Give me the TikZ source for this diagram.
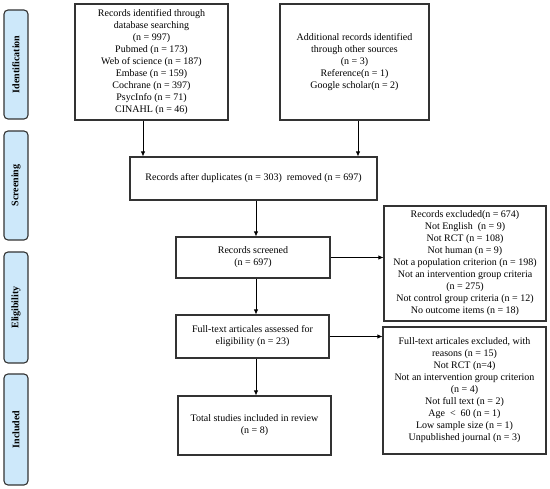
\documentclass[tikz,border=0pt]{standalone}
\usepackage{fontspec}
\setmainfont{Liberation Serif}
\usetikzlibrary{arrows.meta}
\definecolor{sidefill}{HTML}{CDE8FA}
\definecolor{edge}{HTML}{333333}
\begin{document}
\begin{tikzpicture}[x=1pt,y=-1pt,
  box/.style={draw=edge,line width=1.1pt,align=center,inner sep=2pt,
    font=\fontsize{10}{12}\selectfont},
  side/.style={draw=edge,fill=sidefill,line width=1.1pt,rounded corners=4pt,
    rotate=90,minimum height=24pt,inner sep=1pt,font=\fontsize{10}{12}\selectfont\bfseries},
  arr/.style={-{Latex[length=5pt,width=4.5pt]},line width=0.8pt,draw=black}]
\useasboundingbox (0,0) rectangle (550,489);
% side labels
\node[side,minimum width=109pt] (s1) at (16,64.5) {Identification};
\node[side,minimum width=109pt] (s2) at (16,185.5) {Screening};
\node[side,minimum width=111pt] (s3) at (16,307.5) {Eligibility};
\node[side,minimum width=111pt] (s4) at (16,429.5) {Included};
% boxes
\node[box,minimum width=153pt,minimum height=116pt] (b1) at (151.5,62)
  {Records identified through\\database searching\\(n = 997)\\Pubmed (n = 173)\\Web of science (n = 187)\\Embase (n = 159)\\Cochrane (n = 397)\\PsycInfo (n = 71)\\CINAHL (n = 46)};
\node[box,minimum width=149pt,minimum height=116pt] (b2) at (354.5,62)
  {Additional records identified\\through other sources\\(n = 3)\\Reference(n = 1)\\Google scholar(n = 2)};
\node[box,minimum width=247pt,minimum height=43pt] (b3) at (253.5,178.5)
  {Records after duplicates (n = 303)\ \ removed (n = 697)};
\node[box,minimum width=154pt,minimum height=41pt] (b4) at (253,257.5)
  {Records screened\\(n = 697)};
\node[box,minimum width=153pt,minimum height=43pt] (b5) at (252.5,336.5)
  {Full-text articales assessed for\\eligibility (n = 23)};
\node[box,minimum width=153pt,minimum height=59pt] (b6) at (254.5,425.5)
  {Total studies included in review\\(n = 8)};
\node[box,minimum width=162pt,minimum height=115pt] (b7) at (465,263.5)
  {Records excluded(n = 674)\\Not English\ \ (n = 9)\\Not RCT (n = 108)\\Not human (n = 9)\\Not a population criterion (n = 198)\\Not an intervention group criteria\\(n = 275)\\Not control group criteria (n = 12)\\No outcome items (n = 18)};
\node[box,minimum width=163pt,minimum height=127pt] (b8) at (464.5,390.5)
  {Full-text articales excluded, with\\reasons (n = 15)\\Not RCT (n=4)\\Not an intervention group criterion\\(n = 4)\\Not full text (n = 2)\\Age\ \ <\ \ 60 (n = 1)\\Low sample size (n = 1)\\Unpublished journal (n = 3)};
% connector guides
\coordinate (a1) at (143,0);
\coordinate (a2) at (358,0);
\coordinate (a3) at (256,0);
\draw[arr] (b1.south -| a1) -- (b3.north -| a1);
\draw[arr] (b2.south -| a2) -- (b3.north -| a2);
\draw[arr] (b3.south -| a3) -- (b4.north -| a3);
\draw[arr] (b4.south -| a3) -- (b5.north -| a3);
\draw[arr] (b5.south -| a3) -- (b6.north -| a3);
\draw[arr] (b4.east) -- (b4.east -| b7.west);
\draw[arr] (b5.east) -- (b5.east -| b8.west);
\end{tikzpicture}
\end{document}
